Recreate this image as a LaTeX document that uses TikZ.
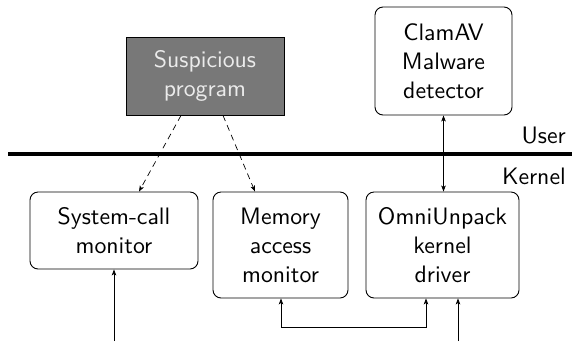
\documentclass[tikz,border=0pt]{standalone}
\usepackage{fontspec}
\newfontfamily\lmsten{lmsans10-regular.otf}
\usetikzlibrary{arrows.meta}
\begin{document}
\begin{tikzpicture}[x=1pt,y=-1pt,
  font=\lmsten\fontsize{23.8}{29}\selectfont,
  box/.style={draw, line width=0.9pt, rounded corners=8pt, align=center, inner sep=0pt},
  susbox/.style={draw, line width=0.9pt, fill=black!53, text=black!8, align=center, inner sep=0pt},
  arr/.style={line width=0.7pt, -{Stealth[length=6pt,width=4.5pt,inset=1.5pt]}},
  darr/.style={arr, dash pattern=on 6pt off 4.5pt},
  barr/.style={line width=0.7pt, {Stealth[length=6pt,width=4.5pt,inset=1.5pt]}-{Stealth[length=6pt,width=4.5pt,inset=1.5pt]}}]
\useasboundingbox (0,0) rectangle (572,341);
\node[susbox, minimum width=158pt, minimum height=78pt] (sus) at (205,76) {Suspicious\\program};
\node[box, minimum width=137pt, minimum height=108pt] (clam) at (443.5,61) {ClamAV\\Malware\\detector};
\coordinate (lineL) at (8,154);
\coordinate (lineR) at (572,154);
\draw[line width=3.8pt] (lineL) -- (lineR);
\node[anchor=east, inner sep=0pt] (user) at (566,135) {User};
\node[anchor=east, inner sep=0pt] (kernel) at (566,176) {Kernel};
\node[box, minimum width=168pt, minimum height=77pt] (sys) at (114,230.5) {System-call\\monitor};
\node[box, minimum width=135pt, minimum height=106pt] (mem) at (280.5,245) {Memory\\access\\monitor};
\node[box, minimum width=153pt, minimum height=106pt] (omni) at (442.5,245) {OmniUnpack\\kernel\\driver};
\draw[darr] ([xshift=-24pt]sus.south) -- ([xshift=25pt]sys.north);
\draw[darr] ([xshift=18pt]sus.south) -- ([xshift=-25.5pt]mem.north);
\draw[barr] (clam.south) -- (clam.south |- omni.north);
\coordinate (in1) at (114,341);
\draw[arr] (in1) -- (sys.south);
\draw[barr] ([xshift=0.5pt]mem.south) -- ++(0,29) -| ([xshift=-16.5pt]omni.south);
\coordinate (in2) at (458,341);
\draw[arr] (in2) -- (in2 |- omni.south);
\end{tikzpicture}
\end{document}
